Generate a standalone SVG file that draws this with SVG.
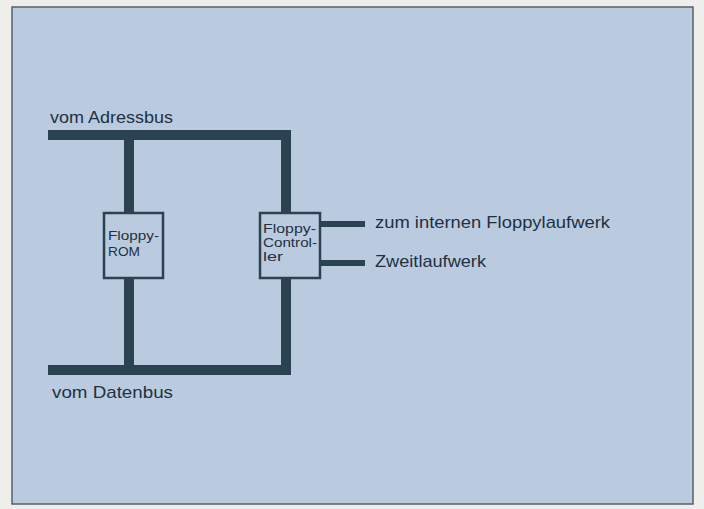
<svg xmlns="http://www.w3.org/2000/svg" width="704" height="509" viewBox="0 0 704 509">
<style>
.bus{stroke:#2b4250;stroke-width:10;fill:none;stroke-linecap:butt}
.out{stroke:#2b4250;stroke-width:6;fill:none}
.box{fill:#bacbe0;stroke:#2b4250;stroke-width:2.5}
.lbl{font-family:"Liberation Sans",Arial,sans-serif;font-size:17px;fill:#1f3140}
.small{font-family:"Liberation Sans",Arial,sans-serif;font-size:13.5px;fill:#1f3140}
</style>
<rect x="0" y="0" width="704" height="509" fill="#eeeeea"/>
<rect x="12" y="7" width="681" height="497" fill="#bacbe0" stroke="#55606a" stroke-width="1.5"/>
<g id="connectors">
<path class="bus" d="M48 135 H286 V213"/>
<path class="bus" d="M129 135 V213"/>
<path class="bus" d="M129 278 V370"/>
<path class="bus" d="M286 278 V370 H48"/>
<path class="out" d="M321 224 H365"/>
<path class="out" d="M321 263 H365"/>
</g>
<g id="label-adressbus"><text class="lbl" x="50" y="123" textLength="123" lengthAdjust="spacingAndGlyphs">vom Adressbus</text></g>
<g id="label-datenbus"><text class="lbl" x="52" y="398" textLength="121" lengthAdjust="spacingAndGlyphs">vom Datenbus</text></g>
<g id="floppy-rom">
<rect class="box" x="104" y="213" width="59" height="65"/>
<text class="small" x="108" y="240" textLength="51" lengthAdjust="spacingAndGlyphs">Floppy-</text>
<text class="small" x="108" y="256" textLength="32" lengthAdjust="spacingAndGlyphs">ROM</text>
</g>
<g id="floppy-controller">
<rect class="box" x="260" y="213" width="60" height="65"/>
<text class="small" x="263" y="233" textLength="53" lengthAdjust="spacingAndGlyphs">Floppy-</text>
<text class="small" x="263" y="247" textLength="54" lengthAdjust="spacingAndGlyphs">Control-</text>
<text class="small" x="263" y="261" textLength="20" lengthAdjust="spacingAndGlyphs">ler</text>
</g>
<g id="label-intern"><text class="lbl" x="375" y="228" textLength="235" lengthAdjust="spacingAndGlyphs">zum internen Floppylaufwerk</text></g>
<g id="label-zweit"><text class="lbl" x="375" y="267" textLength="111" lengthAdjust="spacingAndGlyphs">Zweitlaufwerk</text></g>
</svg>
